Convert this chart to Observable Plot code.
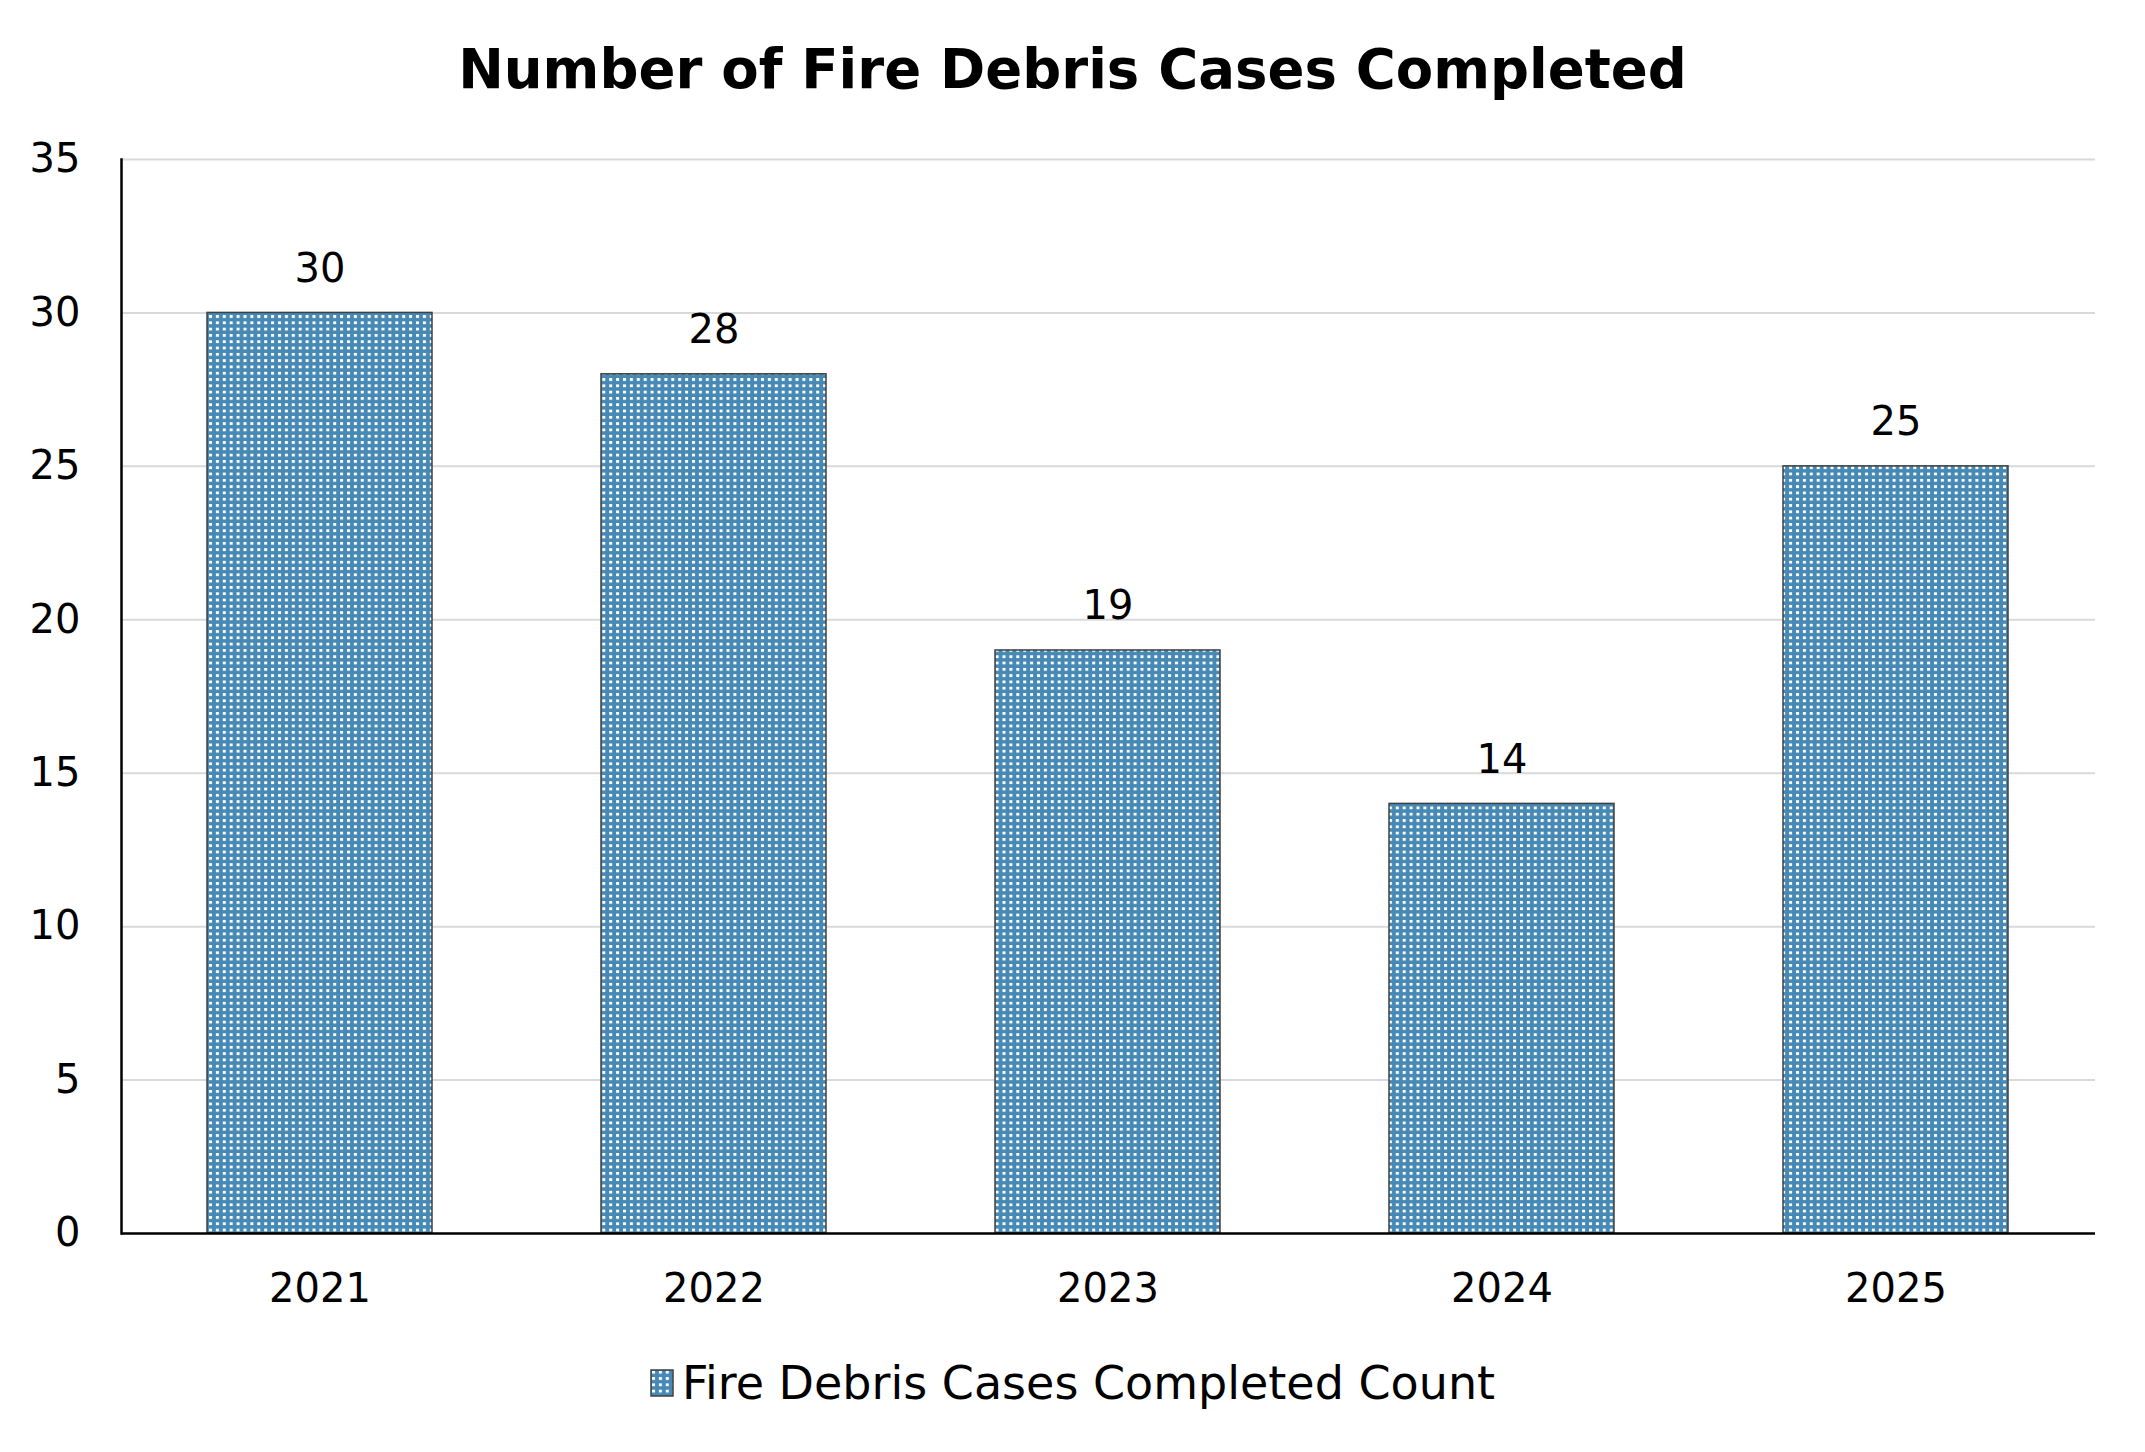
<!DOCTYPE html>
<html>
<head>
<meta charset="utf-8">
<script src="https://cdn.jsdelivr.net/npm/d3@7"></script>
<script src="https://cdn.jsdelivr.net/npm/@observablehq/plot@0.6"></script>
<style>
  html, body { margin: 0; padding: 0; background: #fff; }
  body { width: 2145px; font-family: "DejaVu Sans", Verdana, sans-serif; color: #000; }
  #title { height: 98px; padding-top: 20px; display: flex; align-items: center; justify-content: center; font-weight: bold; font-size: 54.5px; }
  #legend { height: 86px; display: flex; align-items: center; justify-content: center; font-size: 46px; }
  #legend svg { margin-right: 8px; }
  #chart svg { overflow: visible; }
</style>
</head>
<body>
<svg width="0" height="0" style="position:absolute">
  <defs>
    <pattern id="dots" patternUnits="userSpaceOnUse" width="6.9" height="6.3">
      <rect width="6.9" height="6.3" fill="#4689b5"></rect>
      <rect x="2" y="1.8" width="3" height="2.8" fill="#ffffff"></rect>
    </pattern>
  </defs>
</svg>
<div id="title">Number of Fire Debris Cases Completed</div>
<div id="chart"></div>
<div id="legend"><svg width="24" height="28"><rect x="1" y="1" width="22" height="26" fill="url(#dots)" stroke="#404040" stroke-width="1.5"></rect></svg><span>Fire Debris Cases Completed Count</span></div>
<script>
const years = ["2021", "2022", "2023", "2024", "2025"];
const counts = [30, 28, 19, 14, 25];
const yTicks = [0, 5, 10, 15, 20, 25, 30, 35];
const seriesName = "Fire Debris Cases Completed Count";

const data = years.map((y, i) => ({year: y, count: counts[i]}));

const chart = Plot.plot({
  width: 2145,
  height: 1222,
  marginTop: 41,
  marginBottom: 107,
  marginLeft: 121,
  marginRight: 50,
  style: {fontFamily: "DejaVu Sans, Verdana, sans-serif", fontSize: "40px", color: "#000", background: "#fff"},
  x: {domain: years, paddingInner: 0.428, paddingOuter: 0.214, label: null},
  y: {domain: [0, 35], ticks: yTicks, label: null},
  marks: [
    Plot.gridY(yTicks.filter(d => d > 0), {stroke: "#d9d9d9", strokeOpacity: 1, strokeWidth: 2}),
    Plot.barY(data, {x: "year", y: "count", fill: "url(#dots)", stroke: "#404040", strokeWidth: 1.5}),
    Plot.ruleY([0], {stroke: "#000", strokeWidth: 2.5}),
    Plot.frame({anchor: "left", stroke: "#000", strokeWidth: 2.5}),
    Plot.axisY(yTicks, {tickSize: 0, tickPadding: 41, fontSize: 40, label: null}),
    Plot.axisX({tickSize: 0, tickPadding: 40, fontSize: 40, label: null}),
    Plot.text(data, {x: "year", y: "count", text: d => String(d.count), dy: -44, lineAnchor: "middle", fontSize: 40, fill: "#000"})
  ]
});
document.getElementById("chart").appendChild(chart);
</script>
</body>
</html>
